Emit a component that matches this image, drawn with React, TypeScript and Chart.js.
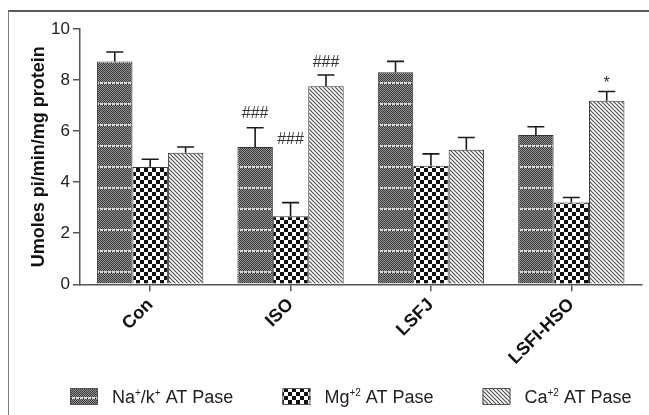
import React, { useEffect, useRef } from 'react';
import { Chart, registerables } from 'chart.js';

Chart.register(...registerables);

const categories = ['Con', 'ISO', 'LSFJ', 'LSFI-HSO'];
const seriesNames = ['Na⁺/k⁺ AT Pase', 'Mg⁺² AT Pase', 'Ca⁺² AT Pase'];
const legendMarkup = ['Na^{+}/k^{+} AT Pase', 'Mg^{+2} AT Pase', 'Ca^{+2} AT Pase'];
const naValues = [8.73, 5.38, 8.31, 5.85];
const mgValues = [4.59, 2.67, 4.64, 3.2];
const caValues = [5.15, 7.76, 5.27, 7.19];
const naErrors = [0.37, 0.75, 0.42, 0.32];
const mgErrors = [0.31, 0.53, 0.47, 0.2];
const caErrors = [0.23, 0.44, 0.48, 0.36];
const naMarks = ['', '###', '', ''];
const mgMarks = ['', '###', '', ''];
const caMarks = ['', '###', '', '*'];
const naMarkAt: (number | null)[] = [null, 6.68, null, null];
const mgMarkAt: (number | null)[] = [null, 5.66, null, null];
const caMarkAt: (number | null)[] = [null, 8.69, null, 7.85];
const yTicks = [0, 2, 4, 6, 8, 10];
const yTitle = 'Umoles pi/min/mg protein';

const seriesValues = [naValues, mgValues, caValues];
const seriesErrors = [naErrors, mgErrors, caErrors];
const seriesMarks = [naMarks, mgMarks, caMarks];
const seriesMarkAt = [naMarkAt, mgMarkAt, caMarkAt];

const FONT = "'Liberation Sans', Arial, Helvetica, sans-serif";

function makePattern(kind: string): CanvasPattern | string {
  const c = document.createElement('canvas');
  const ctx = c.getContext('2d');
  if (!ctx) return '#777';
  if (kind === 'na') {
    c.width = 4;
    c.height = 21;
    ctx.fillStyle = '#3a3a3a';
    ctx.fillRect(0, 0, 4, 21);
    ctx.fillStyle = '#939393';
    for (let y = 0; y < 21; y++) {
      for (let x = 0; x < 4; x++) {
        if ((x + y) % 2 === 0) ctx.fillRect(x, y, 1, 1);
      }
    }
    ctx.fillStyle = '#d8d8d8';
    ctx.fillRect(0, 19, 3, 2);
  } else if (kind === 'mg') {
    c.width = 8;
    c.height = 8;
    ctx.fillStyle = '#ffffff';
    ctx.fillRect(0, 0, 8, 8);
    ctx.fillStyle = '#111111';
    ctx.fillRect(0, 0, 4, 4);
    ctx.fillRect(4, 4, 4, 4);
  } else {
    c.width = 4;
    c.height = 4;
    ctx.fillStyle = '#ffffff';
    ctx.fillRect(0, 0, 4, 4);
    ctx.strokeStyle = '#4a4a4a';
    ctx.lineWidth = 1.1;
    ctx.beginPath();
    ctx.moveTo(-1, -1);
    ctx.lineTo(5, 5);
    ctx.moveTo(3, -1);
    ctx.lineTo(5, 1);
    ctx.moveTo(-1, 3);
    ctx.lineTo(1, 5);
    ctx.stroke();
  }
  return ctx.createPattern(c, 'repeat') || '#777';
}

function parseMarkup(s: string) {
  const segs: { t: string; sup: boolean }[] = [];
  const re = /\^\{([^}]*)\}/g;
  let last = 0;
  let m: RegExpExecArray | null;
  while ((m = re.exec(s))) {
    if (m.index > last) segs.push({ t: s.slice(last, m.index), sup: false });
    segs.push({ t: m[1], sup: true });
    last = re.lastIndex;
  }
  if (last < s.length) segs.push({ t: s.slice(last), sup: false });
  return segs;
}

export default function App() {
  const ref = useRef<HTMLCanvasElement | null>(null);

  useEffect(() => {
    if (!ref.current) return;
    const patterns = [makePattern('na'), makePattern('mg'), makePattern('ca')];

    const errorBarsPlugin = {
      id: 'errorBars',
      afterDatasetsDraw(chart: any) {
        const ctx = chart.ctx;
        const ys = chart.scales.y;
        chart.data.datasets.forEach((_ds: any, di: number) => {
          const meta = chart.getDatasetMeta(di);
          meta.data.forEach((bar: any, i: number) => {
            const v = seriesValues[di][i];
            const e = seriesErrors[di][i];
            const top = ys.getPixelForValue(v + e);
            ctx.save();
            ctx.strokeStyle = '#1a1a1a';
            ctx.lineWidth = 1.6;
            ctx.beginPath();
            ctx.moveTo(bar.x, bar.y);
            ctx.lineTo(bar.x, top);
            ctx.moveTo(bar.x - 8.5, top);
            ctx.lineTo(bar.x + 8.5, top);
            ctx.stroke();
            const mark = seriesMarks[di][i];
            const at = seriesMarkAt[di][i];
            if (mark && at != null) {
              ctx.fillStyle = '#333';
              ctx.font = `16px ${FONT}`;
              ctx.textAlign = 'center';
              ctx.textBaseline = 'middle';
              ctx.fillText(mark, bar.x, ys.getPixelForValue(at));
            }
            ctx.restore();
          });
        });
      },
    };

    const legendPlugin = {
      id: 'customLegend',
      afterDraw(chart: any) {
        const ctx = chart.ctx;
        let x = chart.chartArea.left - 10;
        const baseline = 403;
        legendMarkup.forEach((mk, i) => {
          ctx.save();
          ctx.fillStyle = patterns[i];
          ctx.fillRect(x, 388, 28, 17);
          ctx.strokeStyle = '#555';
          ctx.lineWidth = 1;
          ctx.strokeRect(x + 0.5, 388.5, 27, 16);
          let tx = x + 42;
          ctx.fillStyle = '#222';
          ctx.textBaseline = 'alphabetic';
          ctx.textAlign = 'left';
          parseMarkup(mk).forEach((seg) => {
            if (seg.sup) {
              ctx.font = `10px ${FONT}`;
              ctx.fillText(seg.t, tx, baseline - 7);
            } else {
              ctx.font = `18px ${FONT}`;
              ctx.fillText(seg.t, tx, baseline);
            }
            tx += ctx.measureText(seg.t).width;
          });
          ctx.restore();
          x = tx + 49;
        });
      },
    };

    const chart = new Chart(ref.current, {
      type: 'bar',
      data: {
        labels: categories,
        datasets: seriesNames.map((name, i) => ({
          label: name,
          data: seriesValues[i],
          backgroundColor: patterns[i] as any,
          borderColor: '#333',
          borderWidth: 1,
          barPercentage: 1,
          categoryPercentage: 0.757,
        })),
      },
      options: {
        animation: false,
        responsive: false,
        maintainAspectRatio: false,
        layout: { padding: { top: 29, right: 7.5, bottom: 0, left: 24 } },
        plugins: {
          legend: { display: false },
          tooltip: { enabled: false },
        },
        scales: {
          x: {
            grid: {
              offset: false,
              drawOnChartArea: false,
              drawTicks: true,
              tickLength: 7,
              color: '#555',
              lineWidth: 1.5,
            },
            border: { color: '#555', width: 1.5 },
            ticks: {
              maxRotation: 45,
              minRotation: 45,
              autoSkip: false,
              padding: 3,
              color: '#111',
              font: { family: FONT, size: 18, weight: 'bold' },
            },
            afterFit: (s: any) => {
              s.height = 415 - 284.3;
            },
          },
          y: {
            min: 0,
            max: 10,
            afterBuildTicks: (s: any) => {
              s.ticks = yTicks.map((v) => ({ value: v }));
            },
            grid: {
              drawOnChartArea: false,
              drawTicks: true,
              tickLength: 7,
              color: '#555',
              lineWidth: 1.5,
            },
            border: { color: '#555', width: 1.5 },
            ticks: {
              padding: 3,
              color: '#222',
              font: { family: FONT, size: 17 },
            },
            title: {
              display: true,
              text: yTitle,
              color: '#111',
              padding: { top: 4, bottom: 4 },
              font: { family: FONT, size: 18, weight: 'bold' },
            },
            afterFit: (s: any) => {
              s.width = 56;
            },
          },
        },
      },
      plugins: [errorBarsPlugin, legendPlugin],
    });
    return () => chart.destroy();
  }, []);

  return (
    <div
      style={{
        position: 'fixed',
        left: 0,
        top: 0,
        width: 649,
        height: 415,
        background: '#ffffff',
        overflow: 'hidden',
      }}
    >
      <canvas ref={ref} width={649} height={415} style={{ position: 'absolute', left: 0, top: 0 }} />
      <div
        style={{
          position: 'absolute',
          left: 8,
          top: 10,
          width: 660,
          height: 420,
          borderLeft: '1.5px solid #808080',
          borderTop: '2px solid #5a5a5a',
          pointerEvents: 'none',
        }}
      />
    </div>
  );
}
